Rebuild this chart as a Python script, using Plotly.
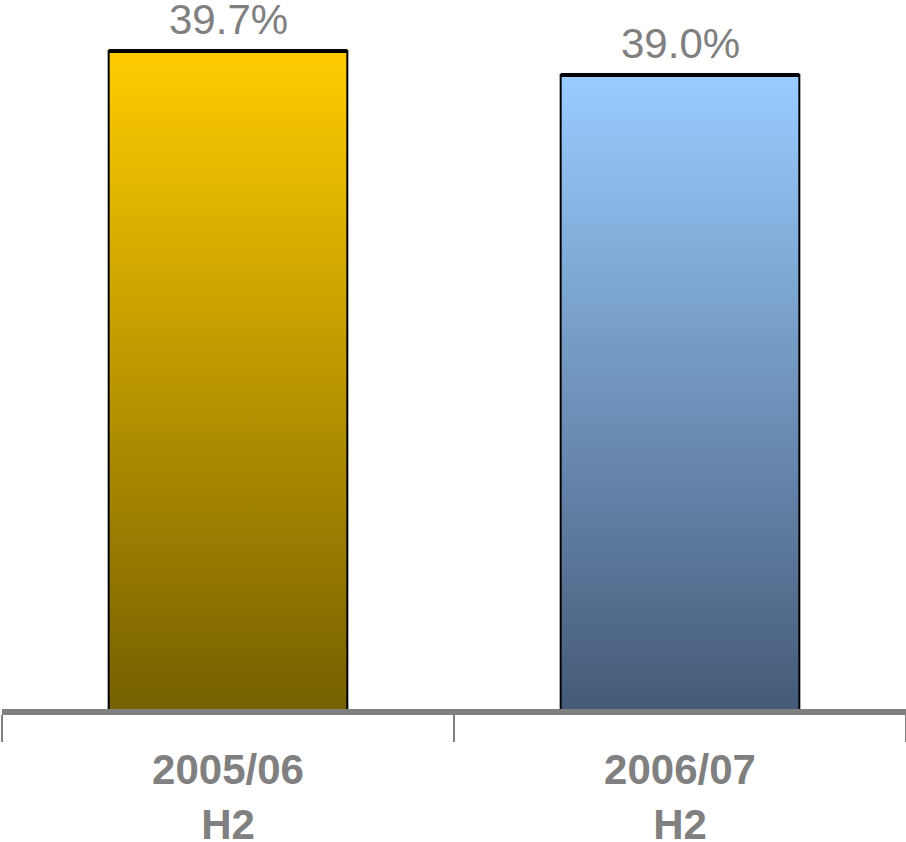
import plotly.graph_objects as go

categories = ["2005/06<br>H2", "2006/07<br>H2"]
values = [39.7, 39.0]
value_labels = ["39.7%", "39.0%"]
top_colors = ["#FFCC00", "#99CCFF"]
bottom_colors = ["#766000", "#465A78"]

Y_MIN, Y_MAX = 20.51, 41.19
HALF = 0.264
GRAY = "#808080"
FONT = "Liberation Sans, Arial, sans-serif"

fig = go.Figure()
for i, (v, ct, cb) in enumerate(zip(values, top_colors, bottom_colors)):
    fig.add_trace(go.Scatter(
        x=[i - HALF, i - HALF, i + HALF, i + HALF],
        y=[Y_MIN, v, v, Y_MIN],
        fill="toself", mode="lines",
        line=dict(color="black", width=2),
        fillgradient=dict(type="vertical", colorscale=[[0, cb], [1, ct]],
                          start=Y_MIN, stop=v),
        hoverinfo="skip", showlegend=False))
    fig.add_trace(go.Scatter(
        x=[i - HALF, i + HALF], y=[v, v], mode="lines",
        line=dict(color="black", width=4),
        hoverinfo="skip", showlegend=False))
    fig.add_annotation(x=i, y=v, text=value_labels[i], showarrow=False,
                       yanchor="bottom", yshift=6,
                       font=dict(size=42, color=GRAY, family=FONT))

fig.update_layout(
    width=906, height=842,
    margin=dict(l=2, r=0, t=0, b=133),
    plot_bgcolor="white", paper_bgcolor="white",
    xaxis=dict(range=[-0.5, 1.5], showline=True, linecolor=GRAY, linewidth=6,
               tickvals=[0, 1], ticktext=categories, ticks="",
               ticklabelstandoff=19, automargin=False,
               tickfont=dict(size=42, color=GRAY, family=FONT, weight="bold"),
               showgrid=False, zeroline=False,
               minor=dict(tickmode="array", tickvals=[-0.5, 0.5, 1.5], ticks="outside",
                          ticklen=27, tickwidth=2, tickcolor=GRAY, showgrid=False)),
    yaxis=dict(range=[Y_MIN, Y_MAX], visible=False, showgrid=False, zeroline=False,
               automargin=False),
)

fig.write_html("out.html")
